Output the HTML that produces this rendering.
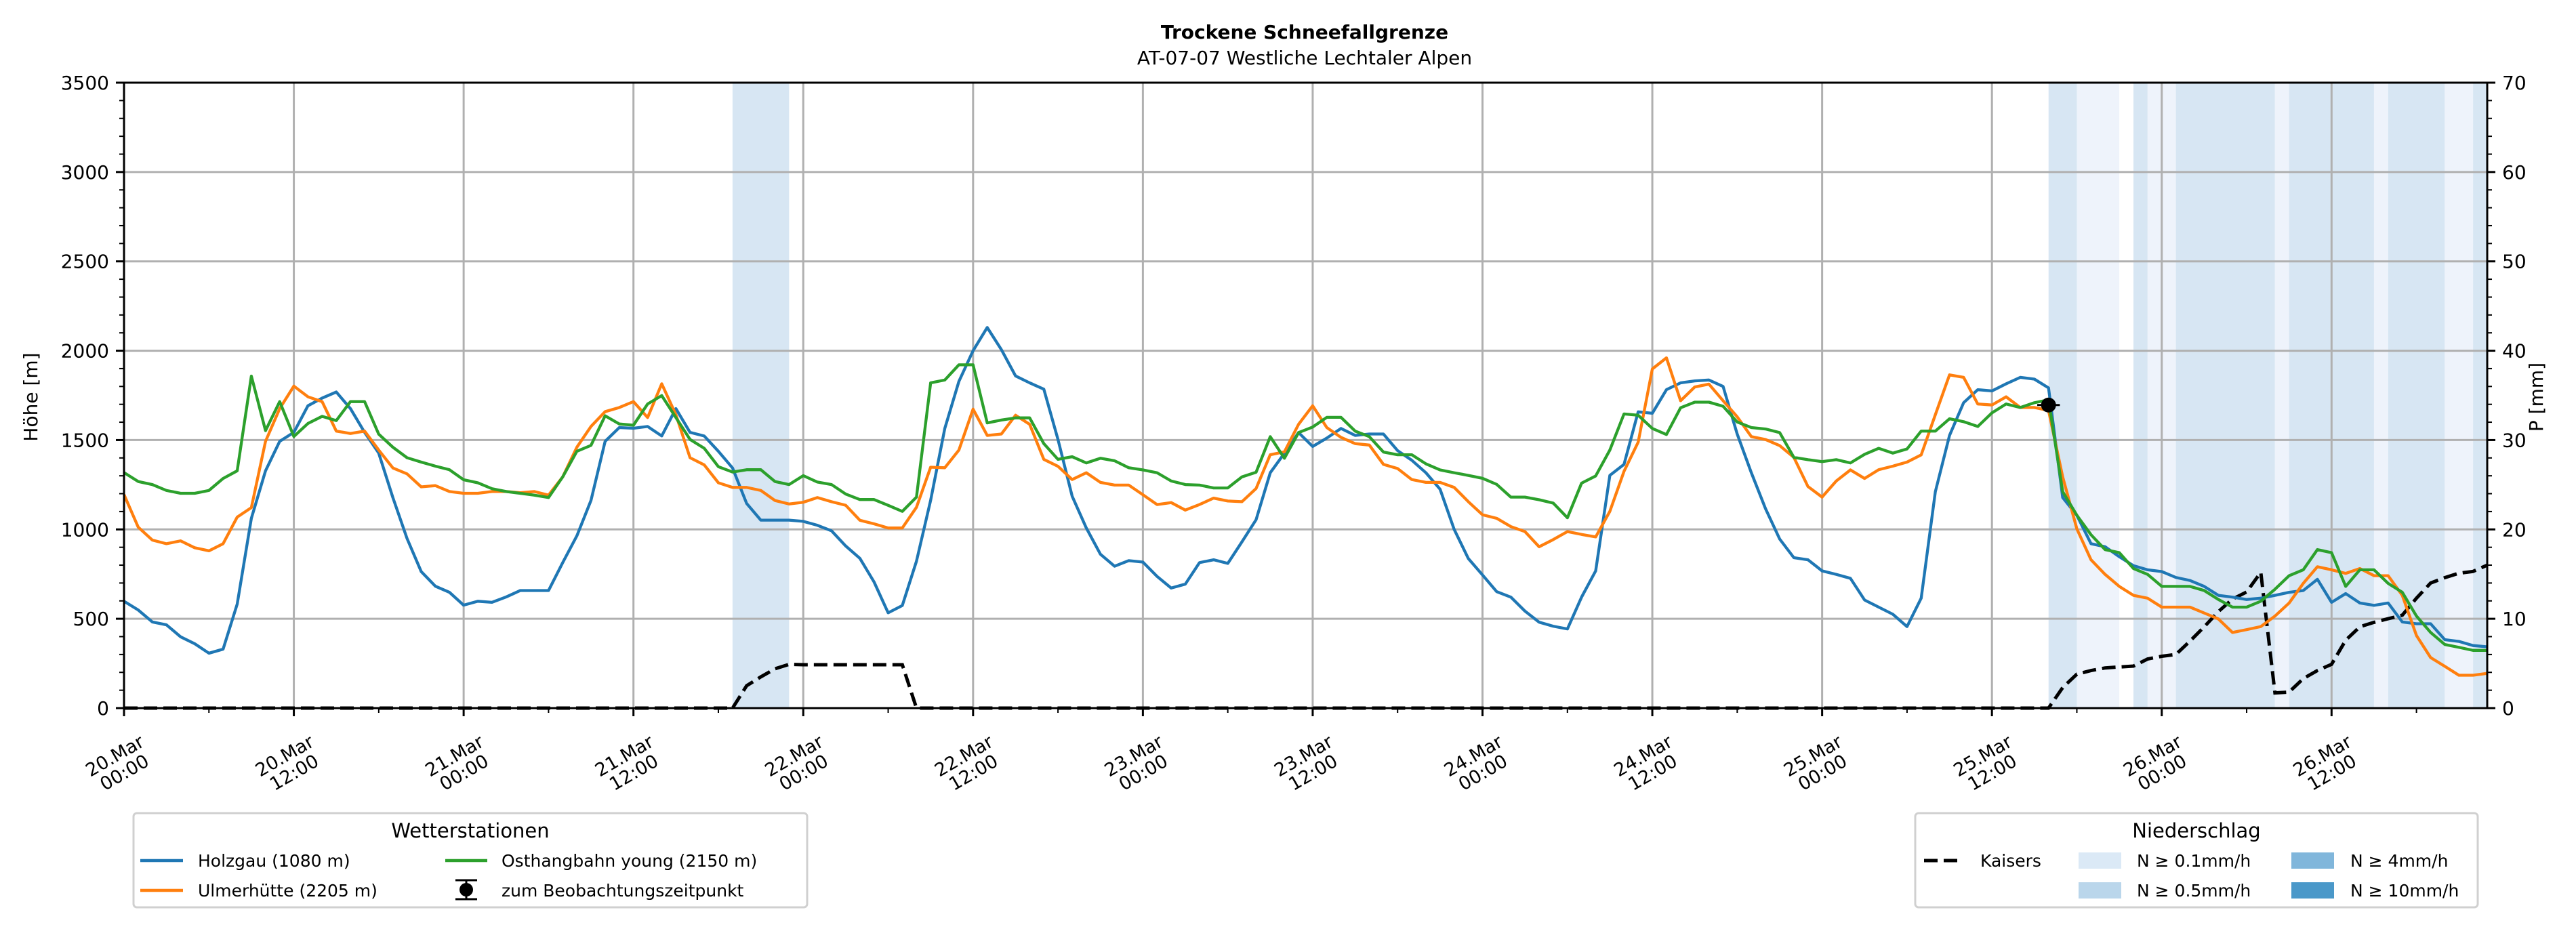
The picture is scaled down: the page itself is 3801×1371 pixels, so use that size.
<!DOCTYPE html>
<html><head><meta charset="utf-8"><style>
html,body{margin:0;padding:0;background:#fff;}
svg{display:block;font-family:"DejaVu Sans","Liberation Sans",sans-serif;}
</style></head><body>
<svg id="chart" width="3801" height="1371" viewBox="0 0 3801 1371" xmlns="http://www.w3.org/2000/svg">
<rect x="0" y="0" width="3801" height="1371" fill="#fff"/>
<text x="1925" y="57" text-anchor="middle" font-size="28" font-weight="bold">Trockene Schneefallgrenze</text>
<text x="1925" y="95" text-anchor="middle" font-size="28">AT-07-07 Westliche Lechtaler Alpen</text>
<g id="bands"></g>
<g id="grid"></g>
<g id="series"></g>
<g id="axes"></g>
<text transform="translate(55,586) rotate(-90)" text-anchor="middle" font-size="28">Höhe [m]</text>
<text transform="translate(3752,586) rotate(-90)" text-anchor="middle" font-size="28">P [mm]</text>

<g>
<rect x="197" y="1200" width="994" height="139" rx="5" fill="#fff" stroke="#d0d0d0" stroke-width="3"/>
<text x="694" y="1236" text-anchor="middle" font-size="29">Wetterstationen</text>
<g><line x1="207" y1="1270" x2="270" y2="1270" stroke="#1f77b4" stroke-width="4.5"/><text x="292" y="1279" font-size="25">Holzgau (1080 m)</text></g>
<g><line x1="207" y1="1314" x2="270" y2="1314" stroke="#ff7f0e" stroke-width="4.5"/><text x="292" y="1323" font-size="25">Ulmerhütte (2205 m)</text></g>
<g><line x1="657" y1="1270" x2="719" y2="1270" stroke="#2ca02c" stroke-width="4.5"/><text x="740" y="1279" font-size="25">Osthangbahn young (2150 m)</text></g>
<g><line x1="672" y1="1299" x2="704" y2="1299" stroke="#000" stroke-width="3"/><line x1="672" y1="1327" x2="704" y2="1327" stroke="#000" stroke-width="3"/><line x1="688" y1="1299" x2="688" y2="1327" stroke="#000" stroke-width="3"/><circle cx="688" cy="1313" r="10" fill="#000"/><text x="740" y="1323" font-size="25">zum Beobachtungszeitpunkt</text></g>
</g>

<g>
<rect x="2826" y="1200" width="830" height="139" rx="5" fill="#fff" stroke="#d0d0d0" stroke-width="3"/>
<text x="3241" y="1236" text-anchor="middle" font-size="29">Niederschlag</text>
<g><line x1="2839" y1="1270" x2="2895" y2="1270" stroke="#000" stroke-width="5" stroke-dasharray="20,9"/><text x="2922" y="1279" font-size="25">Kaisers</text></g>
<g><rect x="3067" y="1258" width="63" height="24" fill="#dbe9f6"/><text x="3153" y="1279" font-size="25">N ≥ 0.1mm/h</text></g>
<g><rect x="3067" y="1302" width="63" height="24" fill="#bad6eb"/><text x="3153" y="1323" font-size="25">N ≥ 0.5mm/h</text></g>
<g><rect x="3381" y="1258" width="63" height="24" fill="#80b6db"/><text x="3468" y="1279" font-size="25">N ≥ 4mm/h</text></g>
<g><rect x="3381" y="1302" width="63" height="24" fill="#4a98c9"/><text x="3468" y="1323" font-size="25">N ≥ 10mm/h</text></g>
</g>
</svg>
<script>
const holzgau = [598,549,482,466,399,360,307,330,582,1062,1328,1493,1543,1692,1735,1769,1676,1543,1427,1178,949,764,682,648,576,598,592,622,658,658,658,814,964,1162,1493,1570,1566,1576,1523,1676,1543,1523,1437,1344,1145,1052,1052,1052,1045,
1023,992,907,838,706,533,574,822,1163,1565,1828,2000,2130,2006,1859,1820,1785,1503,1186,1008,861,794,825,817,737,672,694,814,830,810,930,1054,1317,1426,1542,1464,1511,1565,1526,
1534,1534,1441,1387,1317,1225,1000,837,745,652,621,543,481,458,443,621,768,1302,1364,1658,1650,1782,1820,1831,1836,1800,1534,1317,1116,946,842,830,768,748,726,
605,565,525,456,615,1211,1526,1709,1782,1775,1815,1851,1841,1792,1178,1079,920,903,847,797,774,764,731,714,681,631,621,608,615,631,648,658,721,592,641,588,575,588,482,472,472,383,373,350,343];
const ulmerhuette = [1195,1013,940,920,936,897,880,920,1069,1122,1493,1676,1802,1742,1715,1550,1537,1550,1444,1344,1311,1238,1245,1212,1202,1202,1212,1212,1205,1212,1192,1294,1460,1576,1659,1682,1715,1626,1815,1642,1401,1361,1261,1235,1235,1218,1162,1142,1152,
1178,1155,1135,1051,1031,1008,1008,1124,1348,1345,1444,1673,1526,1534,1639,1588,1392,1353,1279,1317,1263,1248,1248,1194,1139,1150,1108,1139,1175,1159,1155,1229,1418,1434,1588,1692,1570,1515,1480,
1472,1364,1341,1279,1263,1263,1235,1155,1082,1062,1016,988,903,943,988,972,958,1101,1325,1488,1898,1960,1720,1797,1813,1720,1630,1519,1503,1469,1403,1240,1181,1271,1333,
1285,1334,1354,1377,1417,1642,1865,1851,1702,1696,1742,1682,1682,1666,1294,1003,830,748,681,631,615,565,565,565,532,499,423,439,456,515,588,698,791,774,754,781,741,741,631,406,283,234,184,184,194];
const osthangbahn = [1318,1268,1251,1218,1202,1202,1218,1285,1328,1858,1553,1715,1520,1593,1633,1609,1715,1715,1533,1460,1401,1377,1354,1334,1278,1261,1228,1212,1202,1192,1178,1294,1437,1470,1636,1590,1583,1702,1749,1626,1503,1454,1351,1321,1334,1334,1268,1251,1301,
1265,1251,1198,1167,1167,1135,1101,1181,1820,1836,1921,1921,1596,1612,1624,1624,1480,1392,1407,1372,1398,1384,1345,1333,1317,1271,1251,1248,1232,1232,1294,1320,1519,1398,1542,1573,1627,1627,1550,
1519,1433,1418,1418,1367,1333,1317,1302,1286,1252,1181,1181,1166,1147,1065,1259,1299,1444,1646,1639,1565,1531,1681,1712,1712,1689,1601,1570,1562,1542,1403,1390,1379,1390,1372,
1420,1454,1427,1450,1550,1550,1619,1603,1576,1652,1702,1682,1709,1725,1211,1079,970,887,870,781,748,681,681,681,658,608,565,565,598,665,741,774,887,870,681,774,774,698,648,515,423,356,340,323,323];
const kaisers = [0,0,0,0,0,0,0,0,0,0,0,0,0,0,0,0,0,0,0,0,0,0,0,0,0,0,0,0,0,0,0,0,0,0,0,0,0,0,0,0,0,0,0,0,
2.5,3.5,4.4,4.9,4.85,4.85,4.85,4.85,4.85,4.85,4.85,4.85,
0,0,0,0,0,0,0,0,0,0,0,0,0,0,0,0,0,0,0,0,0,0,0,0,0,0,0,0,0,0,0,0,0,0,0,0,0,0,0,0,0,0,0,0,0,0,0,0,0,0,0,0,0,0,0,0,0,0,0,0,0,0,0,0,0,0,0,0,0,0,0,0,0,0,0,0,0,0,0,0,0,
2.3,3.8,4.2,4.5,4.6,4.7,5.5,5.8,6.0,7.5,9.1,10.8,12.2,13.0,15.2,1.7,1.8,3.3,4.2,4.9,7.6,9.1,9.6,10.0,10.4,12.3,14.0,14.6,15.1,15.3,16.0];
const bandStart = [43,136,138,142,143,145,152,153,159,160,164,166];
const bandEnd   = [47,138,141,143,145,152,153,159,160,164,166,167];
const bandLevel = ['m','m','l','m','l','m','l','m','l','m','l','m'];
const yTicks = [0,500,1000,1500,2000,2500,3000,3500];
const pTicks = [0,10,20,30,40,50,60,70];
const xTickHours = [0,12,24,36,48,60,72,84,96,108,120,132,144,156];
const xTickDays = ['20.Mar','20.Mar','21.Mar','21.Mar','22.Mar','22.Mar','23.Mar','23.Mar','24.Mar','24.Mar','25.Mar','25.Mar','26.Mar','26.Mar'];
const xTickTimes = ['00:00','12:00','00:00','12:00','00:00','12:00','00:00','12:00','00:00','12:00','00:00','12:00','00:00','12:00'];
const obsHour = 136, obsValue = 1696;

const NS = 'http://www.w3.org/2000/svg';
const L = 183, R = 3670, T = 122, B = 1045, HMAX = 167;
function x(h){ return L + h*(R-L)/HMAX; }
function y(v){ return B - v/3500*(B-T); }
function yp(p){ return B - p/70*(B-T); }
function mk(tag, attrs, parent){ const e=document.createElementNS(NS,tag); for(const k in attrs) e.setAttribute(k,attrs[k]); parent.appendChild(e); return e; }

const gB = document.getElementById('bands');
for(let i=0;i<bandStart.length;i++){
  const r = mk('rect',{x:x(bandStart[i]),y:T,width:x(bandEnd[i])-x(bandStart[i]),height:B-T,fill:bandLevel[i]==='m'?'#d7e6f3':'#eef3fb'},gB);
  
  
}
const gG = document.getElementById('grid');
yTicks.forEach(v=>{ const l=mk('line',{x1:L,x2:R,y1:y(v),y2:y(v),stroke:'#b0b0b0','stroke-width':3},gG);
  
   });
xTickHours.forEach(h=>{ const l=mk('line',{x1:x(h),x2:x(h),y1:T,y2:B,stroke:'#b0b0b0','stroke-width':3},gG);
  
   });

const gS = document.getElementById('series');
function pathOf(arr, fy){ return arr.map((v,i)=>(i?'L':'M')+x(i).toFixed(1)+','+fy(v).toFixed(1)).join(''); }
const pk = mk('path',{d:pathOf(kaisers,yp),fill:'none',stroke:'#000','stroke-width':5,'stroke-dasharray':'20,9'},gS);


const p1 = mk('path',{d:pathOf(holzgau,y),fill:'none',stroke:'#1f77b4','stroke-width':4.3,'stroke-linejoin':'round'},gS);


const p2 = mk('path',{d:pathOf(ulmerhuette,y),fill:'none',stroke:'#ff7f0e','stroke-width':4.3,'stroke-linejoin':'round'},gS);


const p3 = mk('path',{d:pathOf(osthangbahn,y),fill:'none',stroke:'#2ca02c','stroke-width':4.3,'stroke-linejoin':'round'},gS);


const eb = mk('line',{x1:x(obsHour-0.8),x2:x(obsHour+0.8),y1:y(obsValue),y2:y(obsValue),stroke:'#000','stroke-width':3},gS);


const om = mk('circle',{cx:x(obsHour),cy:y(obsValue),r:11,fill:'#000'},gS);



const gA = document.getElementById('axes');
const frame = mk('rect',{x:L,y:T,width:R-L,height:B-T,fill:'none',stroke:'#000','stroke-width':3},gA);


for(let v=0; v<=3500; v+=100){
  const major = v%500===0;
  mk('line',{x1:L,x2:L-(major?12:7),y1:y(v),y2:y(v),stroke:'#000','stroke-width':major?3:2},gA);
}
yTicks.forEach(v=>{ const t=mk('text',{x:L-22,y:y(v)+10,'text-anchor':'end','font-size':28},gA); t.textContent=v;
  
   });
for(let p=0; p<=70; p+=2){
  const major = p%10===0;
  mk('line',{x1:R,x2:R+(major?12:7),y1:yp(p),y2:yp(p),stroke:'#000','stroke-width':major?3:2},gA);
}
pTicks.forEach(p=>{ const t=mk('text',{x:R+22,y:yp(p)+10,'text-anchor':'start','font-size':28},gA); t.textContent=p;
  
   });
for(let h=0; h<=HMAX; h+=6){
  const major = h%12===0;
  mk('line',{x1:x(h),x2:x(h),y1:B,y2:B+(major?12:7),stroke:'#000','stroke-width':major?3:2},gA);
}
xTickHours.forEach((h,i)=>{
  const t=mk('text',{transform:'translate('+(x(h)-7)+',1127) rotate(-30)','text-anchor':'middle','font-size':27},gA);
  
  
  const a=mk('tspan',{x:0,dy:'-0.15em'},t); a.textContent=xTickDays[i];
  const b=mk('tspan',{x:0,dy:'1.05em'},t); b.textContent=xTickTimes[i];
});
</script>
</body></html>
